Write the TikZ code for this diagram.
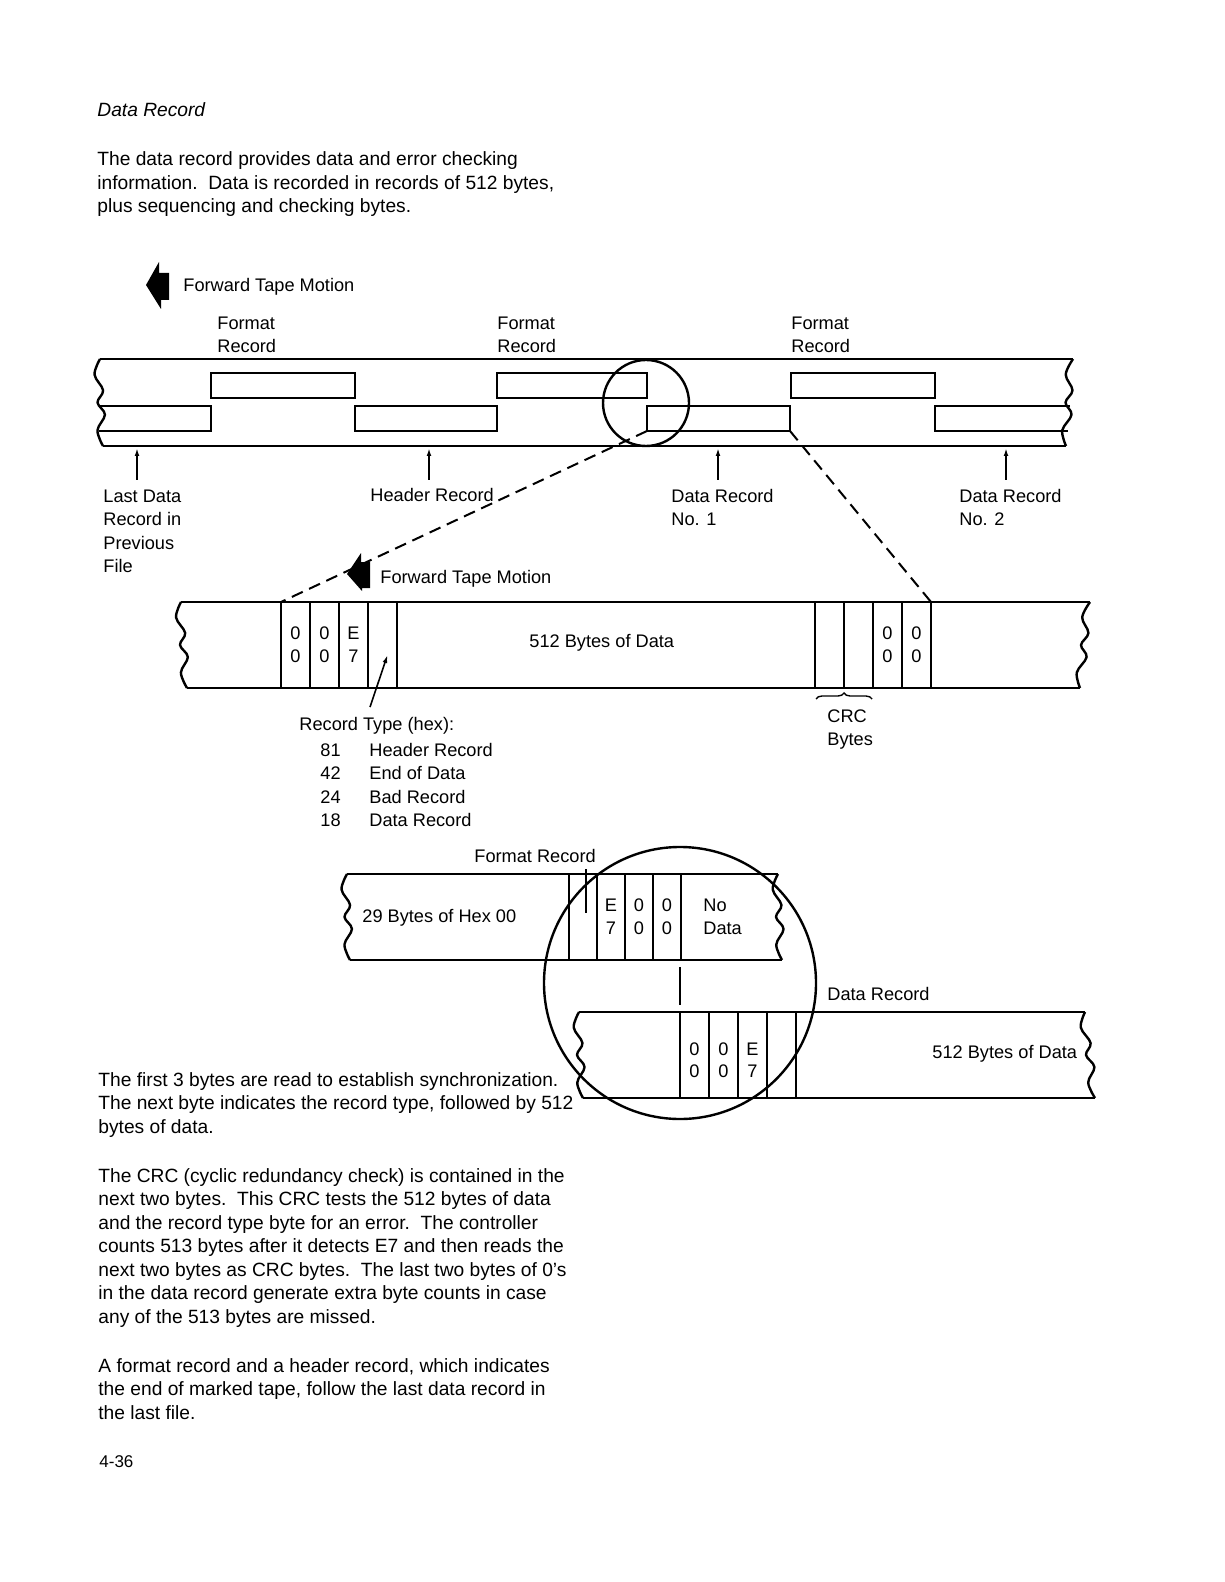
\documentclass[tikz,border=0pt]{standalone}
\usepackage{fontspec}
\setmainfont{Liberation Sans}
\usetikzlibrary{positioning, arrows.meta, calc, decorations.pathreplacing}

% torn end of a tape: top x, top y, bottom x, bottom y
\newcommand{\tornedge}[4]{plot[smooth, tension=0.6] coordinates {(#1,#2)
  ({#1+0.18*(#3-#1)-6},{#2+0.18*(#4-#2)}) ({#1+0.36*(#3-#1)+2},{#2+0.36*(#4-#2)})
  ({#1+0.5*(#3-#1)-4},{#2+0.5*(#4-#2)}) ({#1+0.64*(#3-#1)+3},{#2+0.64*(#4-#2)})
  ({#1+0.82*(#3-#1)-5},{#2+0.82*(#4-#2)}) (#3,#4)}}

\begin{document}
\begin{tikzpicture}[
    x=0.5pt, y=-0.5pt,
    font=\fontsize{9.1}{11.75}\selectfont,
    >={Latex[length=4pt, width=2.4pt]},
    tape/.style={line width=1.2pt, line join=round},
    rec/.style={
        draw, line width=1pt, minimum height=12.5pt,
        inner sep=0pt, outer sep=0pt
    },
    cell/.style={
        draw, line width=0.9pt, minimum width=14.5pt, minimum height=43pt,
        inner sep=0pt, outer sep=0pt, align=center,
        font=\fontsize{9.1}{11.4}\selectfont
    },
    lbl/.style={anchor=base west, inner sep=0pt, align=left},
    para/.style={
        anchor=base west, inner sep=0pt, align=left,
        font=\fontsize{9.6}{11.75}\selectfont
    },
    zoomline/.style={dash pattern=on 6pt off 3.5pt, line width=1pt},
    lens/.style={draw, circle, line width=1.2pt, inner sep=0pt},
    motion/.style={fill=black}
]
\useasboundingbox (0,0) rectangle (1224,1582);

% ============ HEADING AND INTRO ============
% (multi-line texts sit on the baseline of their last line)
\node[para, font=\fontsize{9.6}{11.75}\selectfont\itshape] (title) at (97,117) {Data Record};
\node[para] (intro) at (97,213)
    {The data record provides data and error checking\\
     information.\ \ Data is recorded in records of 512 bytes,\\
     plus sequencing and checking bytes.};

% ============ TAPE 1 (overview) ============
\coordinate (mot1) at (146,285);
\fill[motion] (mot1) -- ++(13,-23) -- ++(0,11) -- ++(10,0) -- ++(0,27) -- ++(-8,0) -- ++(0,9) -- cycle;
\node[lbl] (mot1txt) at (183,292) {Forward Tape Motion};

\node[lbl] (fl1) at (217,353) {Format\\Record};
\node[lbl] (fl2) at (497,353) {Format\\Record};
\node[lbl] (fl3) at (791,353) {Format\\Record};

\draw[tape] (100,359) -- (1073,359);
\draw[tape] (103,446) -- (1066,446);
\draw[tape] \tornedge{100}{359}{103}{446};
\draw[tape] \tornedge{1073}{359}{1066}{446};

\node[rec, minimum width=72pt] (fmt1) at (283,385.5) {};
\node[rec, minimum width=75pt] (fmt2) at (572,385.5) {};
\node[rec, minimum width=72pt] (fmt3) at (863,385.5) {};
\node[rec, minimum width=71pt] (hdr) at (426,418.5) {};
\node[rec, minimum width=71.5pt] (dat1) at (718.5,418.5) {};
\draw[line width=1pt] (100,406) -- (fmt1.west |- hdr.north) -- (fmt1.west |- hdr.south) -- (99,431);
\draw[line width=1pt] (1070,406) -- (fmt3.east |- hdr.north) -- (fmt3.east |- hdr.south) -- (1068,431);

\node[lens, minimum size=43pt] (lens1) at (646,403) {};

% pointers from the labels
\foreach \x [count=\i] in {137,429,718,1006} {
    \coordinate (up\i) at (\x,480);
    \draw[->, line width=0.9pt] (up\i) -- (up\i |- 0,448);
}
\node[lbl] (lastrec) at (103,572.5) {Last Data\\Record in\\Previous\\File};
\node[lbl] (hdrlbl) at (370,502) {Header Record};
\node[lbl] (dr1lbl) at (671,525.5) {Data Record\\No. 1};
\node[lbl] (dr2lbl) at (959,525.5) {Data Record\\No. 2};

% ============ TAPE 2 (one data record) ============
\draw[tape] (181,602) -- (1090,602);
\draw[tape] (187,688) -- (1080,688);
\draw[tape] \tornedge{181}{602}{187}{688};
\draw[tape] \tornedge{1090}{602}{1080}{688};

\node[cell, anchor=north west] (s1) at (281,602) {0\\0};
\node[cell, right=0pt of s1] (s2) {0\\0};
\node[cell, right=0pt of s2] (s3) {E\\7};
\node[cell, right=0pt of s3] (rt) {};
\node[lbl] (bytes2) at (529,647) {512 Bytes of Data};
\node[cell, anchor=north west] (crc1) at (815,602) {};
\node[cell, right=0pt of crc1] (crc2) {};
\node[cell, right=0pt of crc2] (z1) {0\\0};
\node[cell, right=0pt of z1] (z2) {0\\0};

% dashed zoom lines
\draw[zoomline] (dat1.south west) -- (s1.north west);
\draw[zoomline] (dat1.south east) -- (z2.north east);

\coordinate (mot2) at (347,574);
\fill[motion] (mot2) -- ++(14,-21) -- ++(0,9) -- ++(9,0) -- ++(0,26) -- ++(-8,0) -- ++(0,3) -- cycle;
\node[lbl] (mot2txt) at (380,583) {Forward Tape Motion};

\coordinate (rtail) at (370,707);
\draw[->, line width=0.8pt] (rtail) -- ($(rt.south)+(5,-33)$);
\node[lbl] (rtlbl) at (299,730) {Record Type (hex):};
\node[lbl] (rtcode) at (320,826.5) {81\\42\\24\\18};
\node[lbl] (rtname) at (369,826.5) {Header Record\\End of Data\\Bad Record\\Data Record};

\draw[decorate, decoration={brace, amplitude=3pt}, line width=0.7pt]
    ($(crc1.south west)+(1,11)$) -- ($(crc2.south east)+(-1,11)$);
\node[lbl] (crclbl) at (827,745.5) {CRC\\Bytes};

% ============ TAPES 3 AND 4 (format record to data record) ============
\node[lbl] (fmtlbl) at (474,862) {Format Record};
\draw[tape] (347,874) -- (778,874);
\draw[tape] (350,960) -- (782,960);
\draw[tape] \tornedge{347}{874}{350}{960};
\draw[tape] \tornedge{778}{874}{782}{960};

\node[cell, minimum width=14pt, anchor=north west] (f1) at (569,874) {};
\node[cell, minimum width=14pt, right=0pt of f1] (f2) {E\\7};
\node[cell, minimum width=14pt, right=0pt of f2] (f3) {0\\0};
\node[cell, minimum width=14pt, right=0pt of f3] (f4) {0\\0};
\draw[line width=0.9pt] ($(f1.north)+(3,-5)$) -- ($(f1.north)+(3,39)$);
\node[lbl] (hex00) at (362,922) {29 Bytes of Hex 00};
\node[lbl, anchor=west] (nodata) at (703,917) {No\\Data};

\node[lbl] (drlbl) at (827,1000) {Data Record};
\draw[tape] (579,1012) -- (1085,1012);
\draw[tape] (583,1098) -- (1095,1098);
\draw[tape] \tornedge{579}{1012}{583}{1098};
\draw[tape] \tornedge{1085}{1012}{1095}{1098};

\node[cell, anchor=north west] (g1) at (680,1012) {\rule{0pt}{11.5pt}0\\0};
\node[cell, right=0pt of g1] (g2) {\rule{0pt}{11.5pt}0\\0};
\node[cell, right=0pt of g2] (g3) {\rule{0pt}{11.5pt}E\\7};
\node[cell, right=0pt of g3] (g4) {};
\node[lbl] (bytes4) at (932,1058) {512 Bytes of Data};

\draw[line width=0.9pt] ($(g1.north west)+(0,-45)$) -- ($(g1.north west)+(0,-7)$);

\node[lens, minimum size=136pt] (lens2) at (680,983) {};

% ============ BODY TEXT ============
\node[para] (sync) at (98,1133)
    {The first 3 bytes are read to establish synchronization.\\
     The next byte indicates the record type, followed by 512\\
     bytes of data.};
\node[para] (crcpara) at (98,1323)
    {The CRC (cyclic redundancy check) is contained in the\\
     next two bytes.\ \ This CRC tests the 512 bytes of data\\
     and the record type byte for an error.\ \ The controller\\
     counts 513 bytes after it detects E7 and then reads the\\
     next two bytes as CRC bytes.\ \ The last two bytes of 0's\\
     in the data record generate extra byte counts in case\\
     any of the 513 bytes are missed.};
\node[para] (endpara) at (98,1419)
    {A format record and a header record, which indicates\\
     the end of marked tape, follow the last data record in\\
     the last file.};
\node[para, font=\fontsize{8.5}{10}\selectfont] (pageno) at (99,1467) {4-36};

\end{tikzpicture}
\end{document}
